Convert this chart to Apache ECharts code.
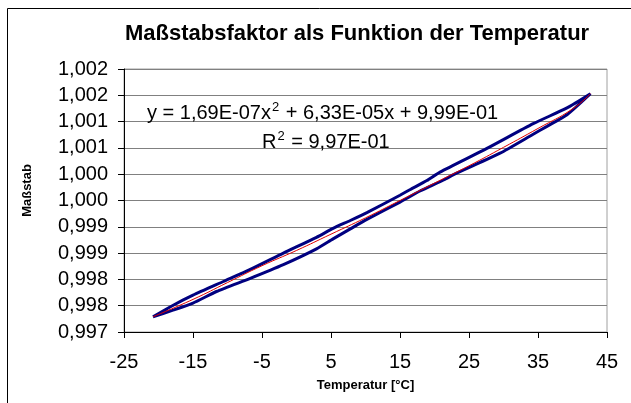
<!DOCTYPE html>
<html>
<head>
<meta charset="utf-8">
<title>Maßstabsfaktor als Funktion der Temperatur</title>
<script src="https://cdn.jsdelivr.net/npm/echarts@6/dist/echarts.min.js"></script>
<style>
  html, body { margin: 0; padding: 0; background: #fff; }
  #chart { width: 631px; height: 403px; }
</style>
</head>
<body>
<div id="chart"></div>
<script>
// Messwerte: Hysterese-Schleife (unterer Ast hin, oberer Ast zurück)
const loopTemp = [
  -20.8, -18.0, -15.0, -11.6, -6.7, -1.9, 2.9, 5.3, 7.8, 10.2, 15.0, 17.9, 21.3, 23.2, 29.5, 34.3, 36.3, 39.2, 42.6,
  39.2, 34.3, 27.6, 20.8, 18.9, 16.5, 15.0, 10.2, 7.8, 5.3, 2.9, -1.9, -6.7, -10.6, -15.0, -18.0, -20.8
]
const loopScale = [
  0.99729, 0.99741, 0.99755, 0.99777, 0.99802, 0.99828, 0.99858, 0.99877, 0.99896, 0.99914, 0.99947, 0.99968, 0.99989, 1.00002, 1.00040, 1.00076, 1.00091, 1.00113, 1.00153,
  1.00126, 1.00096, 1.00049, 1.00004, 0.99988, 0.99971, 0.99960, 0.99927, 0.99912, 0.99897, 0.99880, 0.99850, 0.99819, 0.99796, 0.99770, 0.99750, 0.99729
]

// polynomische Trendlinie
const trendTemp = [-20.8, -15, -10, -5, 0, 5, 10, 15, 20, 25, 30, 35, 40, 42.6]
const trendScale = [0.99729, 0.99762, 0.99794, 0.99826, 0.99855, 0.99886, 0.99917, 0.99950, 0.99983, 1.00016, 1.00051, 1.00087, 1.00124, 1.00153]

const yTickLabels = ['0,997', '0,998', '0,998', '0,999', '0,999', '1,000', '1,000', '1,001', '1,001', '1,002', '1,002']

const font = '"Liberation Sans", Arial, sans-serif'

const chart = echarts.init(document.getElementById('chart'))

const option = {
  backgroundColor: '#fff',
  animation: false,
  title: {
    text: 'Maßstabsfaktor als Funktion der Temperatur',
    left: 120,
    top: 18,
    textStyle: {
      fontFamily: font,
      fontSize: 22,
      fontWeight: 'bold',
      color: '#000'
    }
  },
  grid: {
    left: 124,
    right: 24,
    top: 69,
    bottom: 71,
    show: true,
    borderColor: '#a0a0a0',
    borderWidth: 1
  },
  xAxis: {
    type: 'value',
    min: -25,
    max: 45,
    interval: 10,
    name: 'Temperatur [°C]',
    nameLocation: 'middle',
    nameGap: 47,
    nameTextStyle: {
      fontFamily: font,
      fontSize: 13,
      fontWeight: 'bold',
      color: '#000'
    },
    axisLine: { onZero: false, lineStyle: { color: '#000', width: 1 } },
    axisTick: { show: true, length: 6, lineStyle: { color: '#000' } },
    axisLabel: {
      fontFamily: font,
      fontSize: 20,
      color: '#000',
      margin: 20
    },
    splitLine: { show: false }
  },
  yAxis: {
    type: 'value',
    min: 0.997,
    max: 1.002,
    interval: 0.0005,
    name: 'Maßstab',
    nameLocation: 'middle',
    nameGap: 90,
    nameTextStyle: {
      fontFamily: font,
      fontSize: 13,
      fontWeight: 'bold',
      color: '#000',
      padding: [0, 0, 0, 20]
    },
    axisLine: { show: true, onZero: false, lineStyle: { color: '#000', width: 1 } },
    axisTick: { show: true, length: 6, lineStyle: { color: '#000' } },
    axisLabel: {
      fontFamily: font,
      fontSize: 20,
      color: '#000',
      margin: 16,
      formatter: v => yTickLabels[Math.round((v - 0.997) / 0.0005)]
    },
    splitLine: { show: true, lineStyle: { color: '#808080', width: 1 } }
  },
  graphic: [
    {
      type: 'rect',
      shape: { x: 7.5, y: 8.5, width: 700, height: 500 },
      style: { fill: 'none', stroke: '#000', lineWidth: 1 },
      silent: true
    },
    {
      type: 'text',
      left: 147,
      top: 101,
      style: {
        text: '{n|y = 1,69E-07x}{s|2}{n| + 6,33E-05x + 9,99E-01}',
        rich: {
          n: { fontFamily: font, fontSize: 20, lineHeight: 22, fill: '#000', verticalAlign: 'bottom' },
          s: { fontFamily: font, fontSize: 13, lineHeight: 22, fill: '#000', verticalAlign: 'top', padding: [0, 1, 0, 1] }
        }
      },
      z: 10
    },
    {
      type: 'text',
      left: 262,
      top: 130,
      style: {
        text: '{n|R}{s|2}{n| = 9,97E-01}',
        rich: {
          n: { fontFamily: font, fontSize: 20, lineHeight: 22, fill: '#000', verticalAlign: 'bottom' },
          s: { fontFamily: font, fontSize: 13, lineHeight: 22, fill: '#000', verticalAlign: 'top', padding: [0, 1, 0, 1] }
        }
      },
      z: 10
    }
  ],
  series: [
    {
      name: 'Maßstab',
      type: 'line',
      data: loopTemp.map((t, i) => [t, loopScale[i]]),
      symbol: 'none',
      smooth: 0.2,
      lineStyle: { color: '#000080', width: 3 },
      z: 2
    },
    {
      name: 'Polynomisch',
      type: 'line',
      data: trendTemp.map((t, i) => [t, trendScale[i]]),
      symbol: 'none',
      smooth: true,
      lineStyle: { color: '#e00000', width: 1 },
      z: 3
    }
  ]
}

chart.setOption(option)
</script>
</body>
</html>
